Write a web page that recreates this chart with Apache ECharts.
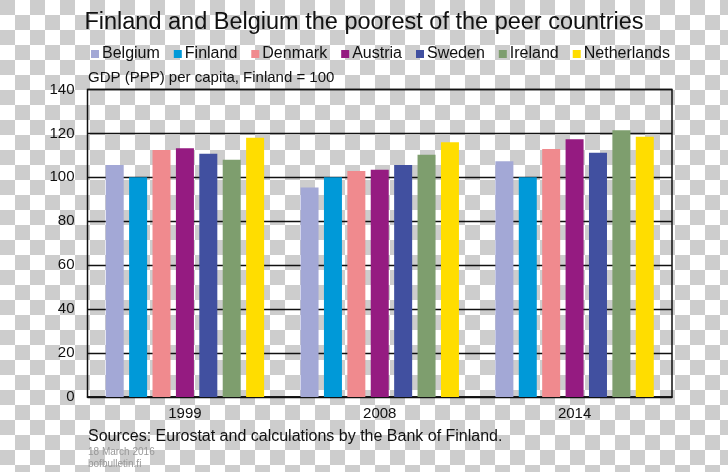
<!DOCTYPE html>
<html>
<head>
<meta charset="utf-8">
<script src="https://cdn.jsdelivr.net/npm/echarts@6/dist/echarts.min.js"></script>
<style>
html,body{margin:0;padding:0;}
body{width:728px;height:472px;background:repeating-conic-gradient(#fff 0 25%, #cdcdcd 0 50%) 0 0/30px 30px;}
#c{width:728px;height:472px;}
</style>
</head>
<body>
<div id="c"></div>
<script>
const years = ['1999', '2008', '2014'];
const countries = ['Belgium', 'Finland', 'Denmark', 'Austria', 'Sweden', 'Ireland', 'Netherlands'];
const belgium = [105.6, 95.4, 107.3];
const finland = [100, 100, 100];
const denmark = [112.4, 102.9, 112.9];
const austria = [113.2, 103.5, 117.3];
const sweden = [110.7, 105.6, 111.2];
const ireland = [108.0, 110.3, 121.5];
const netherlands = [118.0, 116.0, 118.5];
const yTicks = [0, 20, 40, 60, 80, 100, 120, 140];
const colors = ['#a3a8d6', '#0099d8', '#f08a8e', '#951b81', '#4150a0', '#7e9e6e', '#ffdd00'];
const seriesData = [belgium, finland, denmark, austria, sweden, ireland, netherlands];

const FONT = '"Liberation Sans", Arial, sans-serif';
const chart = echarts.init(document.getElementById('c'), null, {renderer: 'canvas'});
chart.setOption({
  backgroundColor: 'transparent',
  animation: false,
  color: colors,
  title: {
    text: 'Finland and Belgium the poorest of the peer countries',
    left: 'center', top: 6,
    textStyle: {fontFamily: FONT, fontSize: 23.5, fontWeight: 'normal', color: '#111'}
  },
  legend: {
    data: countries,
    left: 86, top: 41,
    itemWidth: 8, itemHeight: 8, itemGap: 14,
    icon: 'rect',
    textStyle: {fontFamily: FONT, fontSize: 16, color: '#111', padding: [0, 0, 0, -2]}
  },
  grid: {
    left: 87.5, right: 56, top: 89.5, bottom: 75,
    show: true, borderColor: '#111', borderWidth: 1.5, backgroundColor: 'transparent'
  },
  xAxis: {
    type: 'category', data: years,
    axisLine: {show: true, lineStyle: {color: '#111', width: 1.5}},
    axisTick: {show: false},
    axisLabel: {fontFamily: FONT, fontSize: 15, color: '#111', margin: 9}
  },
  yAxis: {
    type: 'value', min: yTicks[0], max: yTicks[yTicks.length - 1], interval: 20,
    axisLine: {show: false}, axisTick: {show: false},
    splitLine: {show: true, lineStyle: {color: '#111', width: 1.3}},
    axisLabel: {fontFamily: FONT, fontSize: 15, color: '#111', margin: 13}
  },
  graphic: [
    {type: 'text', left: 88, top: 70, style: {text: 'GDP (PPP) per capita, Finland = 100', font: '15px ' + FONT, fill: '#111'}},
    {type: 'text', left: 88, top: 429, style: {text: 'Sources: Eurostat and calculations by the Bank of Finland.', font: '16px ' + FONT, fill: '#111'}},
    {type: 'text', left: 88, top: 447, style: {text: '18 March 2016', font: '10px ' + FONT, fill: '#999'}},
    {type: 'text', left: 88, top: 459, style: {text: 'bofbulletin.fi', font: '10px ' + FONT, fill: '#999'}}
  ],
  series: countries.map((name, i) => ({
    name, type: 'bar', data: seriesData[i],
    barWidth: 18, barGap: '30%',
    itemStyle: {color: colors[i]}
  }))
});
</script>
</body>
</html>
